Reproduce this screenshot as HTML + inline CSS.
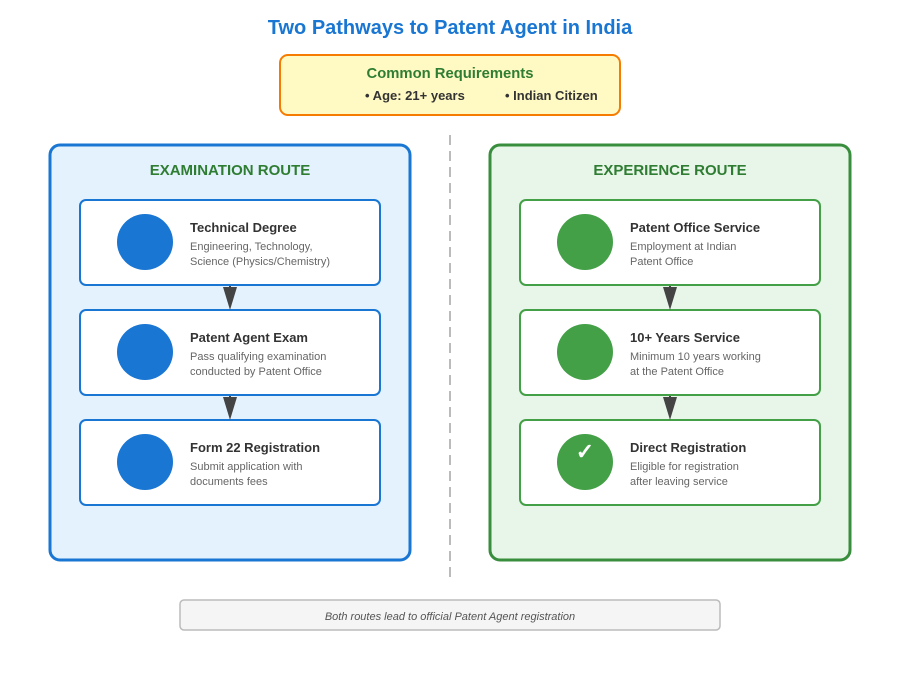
<!DOCTYPE html>
<html><head><meta charset="utf-8"><style>html,body{margin:0;padding:0;background:#fff}svg{display:block}text{font-family:"Liberation Sans",Arial,sans-serif}</style></head>
<body>
<svg width="900" height="700" viewBox="0 0 900 700" xmlns="http://www.w3.org/2000/svg">
<rect width="900" height="700" fill="#fff"/>
<text x="450" y="34" text-anchor="middle" font-size="20" font-weight="bold" fill="#1976d2">Two Pathways to Patent Agent in India</text>
<rect x="280" y="55" width="340" height="60" rx="8" fill="#fff9c4" stroke="#f57c00" stroke-width="2"/>
<text x="450" y="78" text-anchor="middle" font-size="14.8" font-weight="bold" fill="#2e7d32">Common Requirements</text>
<text x="365" y="100" font-size="13" font-weight="bold" fill="#333">• Age: 21+ years</text>
<text x="505" y="100" font-size="13" font-weight="bold" fill="#333">• Indian Citizen</text>
<line x1="450" y1="135" x2="450" y2="580" stroke="#bbb" stroke-width="2" stroke-dasharray="10,6"/>

<rect x="50" y="145" width="360" height="415" rx="10" fill="#e3f2fd" stroke="#1976d2" stroke-width="3"/>
<text x="230" y="175" text-anchor="middle" font-size="15" font-weight="bold" fill="#2e7d32">EXAMINATION ROUTE</text>
<g>
<rect x="80" y="200" width="300" height="85" rx="6" fill="#fff" stroke="#1976d2" stroke-width="2"/>
<circle cx="145" cy="242" r="28" fill="#1976d2"/>
<text x="190" y="232" font-size="13" font-weight="bold" fill="#333">Technical Degree</text>
<text x="190" y="250" font-size="11" fill="#666">Engineering, Technology,</text>
<text x="190" y="265" font-size="11" fill="#666">Science (Physics/Chemistry)</text>
<rect x="80" y="310" width="300" height="85" rx="6" fill="#fff" stroke="#1976d2" stroke-width="2"/>
<circle cx="145" cy="352" r="28" fill="#1976d2"/>
<text x="190" y="342" font-size="13" font-weight="bold" fill="#333">Patent Agent Exam</text>
<text x="190" y="360" font-size="11" fill="#666">Pass qualifying examination</text>
<text x="190" y="375" font-size="11" fill="#666">conducted by Patent Office</text>
<rect x="80" y="420" width="300" height="85" rx="6" fill="#fff" stroke="#1976d2" stroke-width="2"/>
<circle cx="145" cy="462" r="28" fill="#1976d2"/>
<text x="190" y="452" font-size="13" font-weight="bold" fill="#333">Form 22 Registration</text>
<text x="190" y="470" font-size="11" fill="#666">Submit application with</text>
<text x="190" y="485" font-size="11" fill="#666">documents fees</text>
<line x1="230" y1="286" x2="230" y2="295" stroke="#444" stroke-width="2"/>
<polygon points="223,287 237,287 230,310" fill="#444"/>
<line x1="230" y1="396" x2="230" y2="405" stroke="#444" stroke-width="2"/>
<polygon points="223,397 237,397 230,420" fill="#444"/>
</g>

<rect x="490" y="145" width="360" height="415" rx="10" fill="#e8f5e9" stroke="#388e3c" stroke-width="3"/>
<text x="670" y="175" text-anchor="middle" font-size="15" font-weight="bold" fill="#2e7d32">EXPERIENCE ROUTE</text>
<g>
<rect x="520" y="200" width="300" height="85" rx="6" fill="#fff" stroke="#43a047" stroke-width="2"/>
<circle cx="585" cy="242" r="28" fill="#43a047"/>
<text x="630" y="232" font-size="13" font-weight="bold" fill="#333">Patent Office Service</text>
<text x="630" y="250" font-size="11" fill="#666">Employment at Indian</text>
<text x="630" y="265" font-size="11" fill="#666">Patent Office</text>
<rect x="520" y="310" width="300" height="85" rx="6" fill="#fff" stroke="#43a047" stroke-width="2"/>
<circle cx="585" cy="352" r="28" fill="#43a047"/>
<text x="630" y="342" font-size="13" font-weight="bold" fill="#333">10+ Years Service</text>
<text x="630" y="360" font-size="11" fill="#666">Minimum 10 years working</text>
<text x="630" y="375" font-size="11" fill="#666">at the Patent Office</text>
<rect x="520" y="420" width="300" height="85" rx="6" fill="#fff" stroke="#43a047" stroke-width="2"/>
<circle cx="585" cy="462" r="28" fill="#43a047"/>
<text x="585" y="459" text-anchor="middle" font-size="22" font-weight="bold" fill="#fff" font-family="DejaVu Sans, sans-serif">✓</text>
<text x="630" y="452" font-size="13" font-weight="bold" fill="#333">Direct Registration</text>
<text x="630" y="470" font-size="11" fill="#666">Eligible for registration</text>
<text x="630" y="485" font-size="11" fill="#666">after leaving service</text>
<line x1="670" y1="286" x2="670" y2="295" stroke="#444" stroke-width="2"/>
<polygon points="663,287 677,287 670,310" fill="#444"/>
<line x1="670" y1="396" x2="670" y2="405" stroke="#444" stroke-width="2"/>
<polygon points="663,397 677,397 670,420" fill="#444"/>
</g>

<rect x="180" y="600" width="540" height="30" rx="4" fill="#f5f5f5" stroke="#bbb" stroke-width="1.5"/>
<text x="450" y="620" text-anchor="middle" font-size="11" font-style="italic" fill="#555">Both routes lead to official Patent Agent registration</text>
</svg>
</body></html>
